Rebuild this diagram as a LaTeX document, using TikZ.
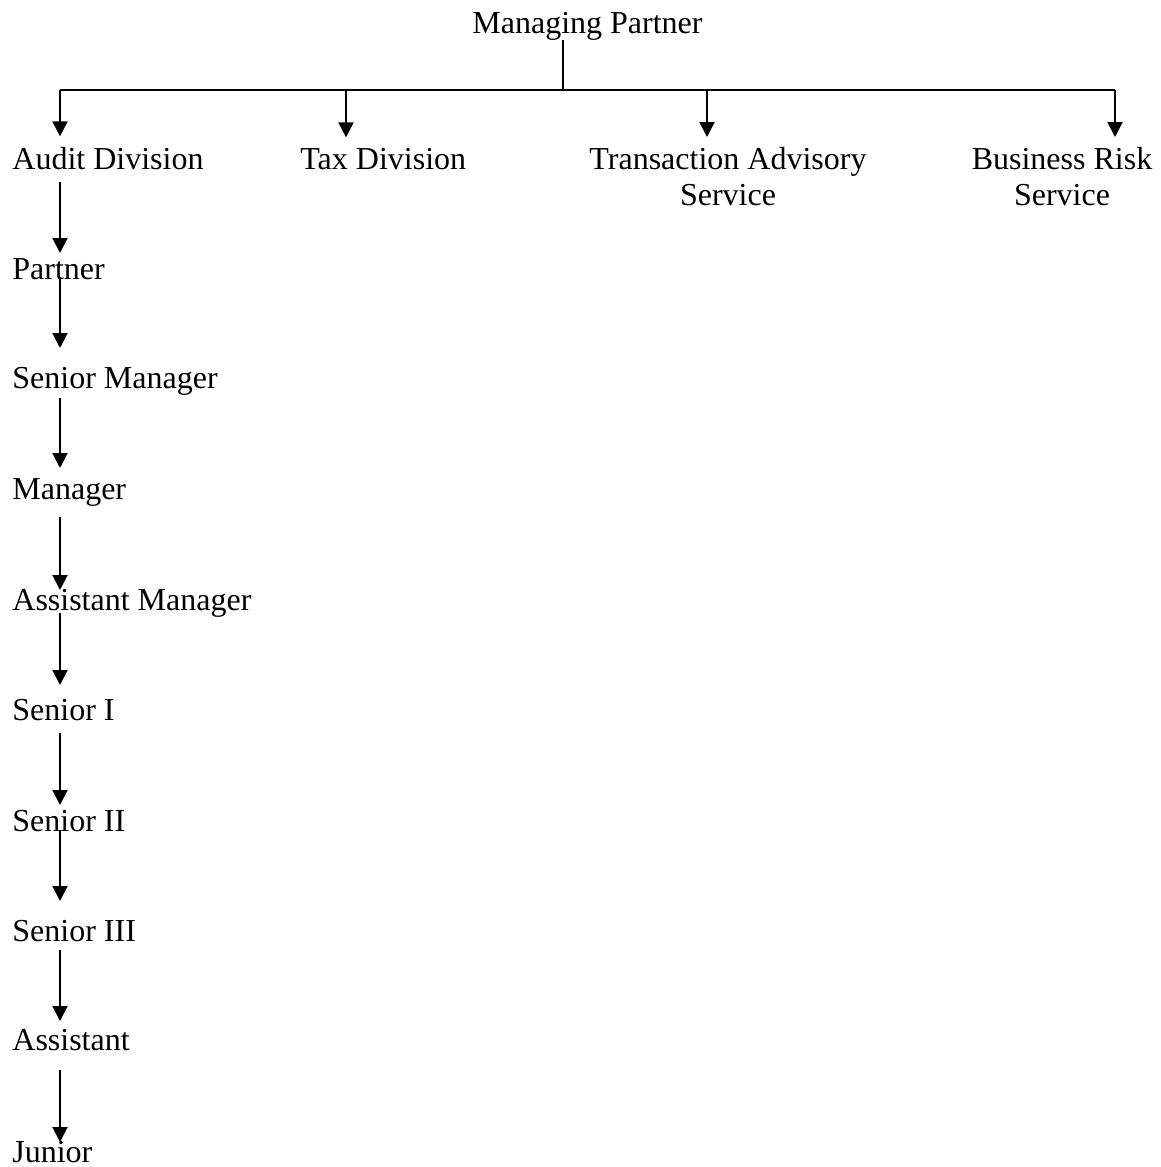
\documentclass[tikz,border=0pt]{standalone}
\usepackage{fontspec}
\setmainfont{Liberation Serif}
\usepackage{tikz}
\usetikzlibrary{calc,arrows.meta}

\begin{document}
\begin{tikzpicture}[x=0.5pt,y=-0.5pt,
    lbl/.style={inner sep=0pt,font=\fontsize{16pt}{18pt}\selectfont},
    arr/.style={line width=1pt,-{Triangle[width=7.5pt,length=7.5pt]}}]
      \useasboundingbox (0,0) rectangle (1161,1167);
      \node[lbl,anchor=base west] (mp) at (472,33) {Managing Partner};
      \node[lbl,anchor=base west] (audit) at (12,169) {Audit Division};
      \node[lbl,anchor=base west] (tax) at (300,169) {Tax Division};
      \node[lbl,anchor=north,align=center] (tas) at (728,147) {Transaction Advisory\\Service};
      \node[lbl,anchor=north,align=center] (brs) at (1062,147) {Business Risk\\Service};
      \node[lbl,anchor=base west] (partner) at (12,279) {Partner};
      \node[lbl,anchor=base west] (senmgr) at (12,388) {Senior Manager};
      \node[lbl,anchor=base west] (mgr) at (12,499) {Manager};
      \node[lbl,anchor=base west] (astmgr) at (12,610) {Assistant Manager};
      \node[lbl,anchor=base west] (senone) at (12,720) {Senior I};
      \node[lbl,anchor=base west] (sentwo) at (12,831) {Senior II};
      \node[lbl,anchor=base west] (senthree) at (12,941) {Senior III};
      \node[lbl,anchor=base west] (asst) at (12,1050) {Assistant};
      \node[lbl,anchor=base west] (junior) at (12,1162) {Junior};
      \coordinate (bar) at (563,90);
      \coordinate (auditdrop) at (60,90);
      \coordinate (taxdrop) at (346,90);
      \coordinate (tasdrop) at (707,90);
      \coordinate (brsdrop) at (1115,90);
      \draw[line width=1pt] (mp.south -| bar) -- (bar);
      \draw[line width=1pt] (auditdrop) -- (brsdrop);
      \draw[arr,shorten >=5pt] (auditdrop) -- (auditdrop |- audit.north);
      \draw[arr,shorten >=5pt] (taxdrop) -- (taxdrop |- tax.north);
      \draw[arr,shorten >=5pt] (tasdrop) -- (tasdrop |- tas.north);
      \draw[arr,shorten >=5pt] (brsdrop) -- (brsdrop |- brs.north);
      \draw[arr] ($(audit.base west)+(48,13)$) -- ($(partner.base west)+(48,-26)$);
      \draw[arr] ($(partner.base west)+(48,-2)$) -- ($(senmgr.base west)+(48,-40)$);
      \draw[arr] ($(senmgr.base west)+(48,10)$) -- ($(mgr.base west)+(48,-31)$);
      \draw[arr] ($(mgr.base west)+(48,18)$) -- ($(astmgr.base west)+(48,-20)$);
      \draw[arr] ($(astmgr.base west)+(48,3)$) -- ($(senone.base west)+(48,-35)$);
      \draw[arr] ($(senone.base west)+(48,13)$) -- ($(sentwo.base west)+(48,-26)$);
      \draw[arr] ($(sentwo.base west)+(48,-1)$) -- ($(senthree.base west)+(48,-40)$);
      \draw[arr] ($(senthree.base west)+(48,9)$) -- ($(asst.base west)+(48,-29)$);
      \draw[arr] ($(asst.base west)+(48,20)$) -- ($(junior.base west)+(48,-20)$);
\end{tikzpicture}
\end{document}
